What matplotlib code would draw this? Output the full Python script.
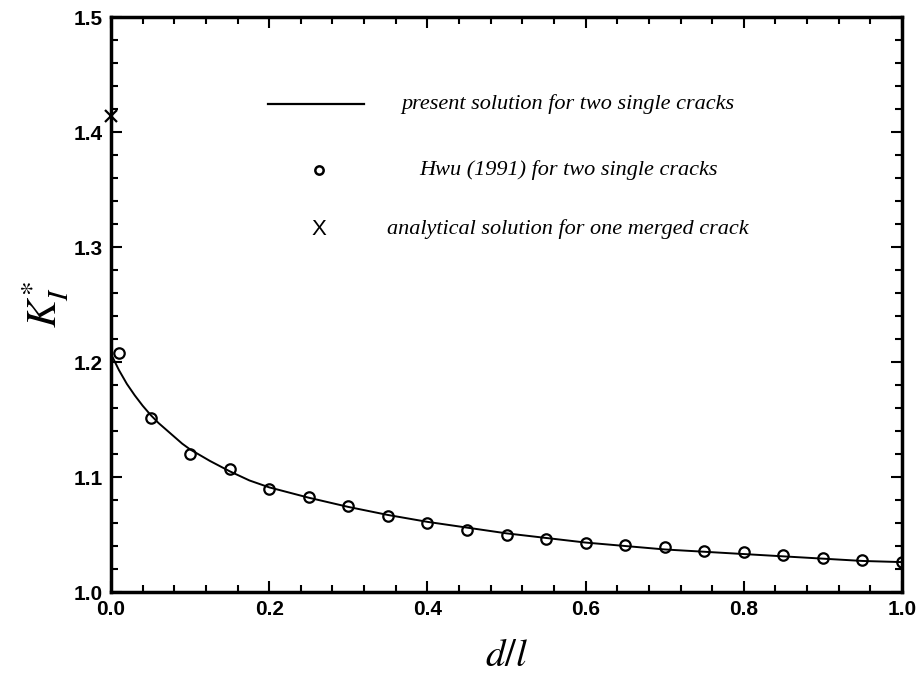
import matplotlib
matplotlib.use("Agg")
import matplotlib.pyplot as plt
from matplotlib.ticker import MultipleLocator, FormatStrFormatter
from matplotlib.lines import Line2D

plt.rcParams["mathtext.fontset"] = "stix"

# present solution (line)
line_x = [0.0, 0.005, 0.01, 0.02, 0.03, 0.04, 0.05, 0.06, 0.075, 0.09, 0.1, 0.125, 0.15, 0.175,
          0.2, 0.25, 0.3, 0.35, 0.4, 0.45, 0.5, 0.55, 0.6, 0.65, 0.7, 0.75, 0.8, 0.85, 0.9, 0.95, 1.0]
line_y = [1.207, 1.200, 1.193, 1.181, 1.171, 1.162, 1.154, 1.147, 1.138, 1.129, 1.124, 1.114, 1.105, 1.097,
          1.091, 1.082, 1.074, 1.067, 1.061, 1.056, 1.051, 1.047, 1.043, 1.040, 1.037, 1.035, 1.033, 1.031, 1.029, 1.027, 1.026]

# Hwu (1991) circles
hwu_x = [0.01, 0.05, 0.1, 0.15, 0.2, 0.25, 0.3, 0.35, 0.4, 0.45, 0.5, 0.55, 0.6, 0.65,
         0.7, 0.75, 0.8, 0.85, 0.9, 0.95, 1.0]
hwu_y = [1.208, 1.151, 1.120, 1.107, 1.090, 1.083, 1.075, 1.066, 1.060, 1.054, 1.050, 1.046, 1.043, 1.041,
         1.039, 1.036, 1.035, 1.032, 1.030, 1.028, 1.026]

# analytical merged crack
merged_x = [0.0]
merged_y = [1.414]

legend_labels = ["present solution for two single cracks",
                 "Hwu (1991) for two single cracks",
                 "analytical solution for one merged crack"]

fig = plt.figure(figsize=(9.19, 6.84), dpi=100)
ax = fig.add_axes([0.1208, 0.1345, 0.8607, 0.8406])

ax.plot(line_x, line_y, color="black", lw=1.4, zorder=3)
ax.plot(hwu_x, hwu_y, linestyle="none", marker="o", ms=7.5, mfc="none", mec="black", mew=1.6, zorder=4)
ax.plot(merged_x, merged_y, linestyle="none", marker="x", ms=9, color="black", mew=1.6, clip_on=False, zorder=5)

ax.set_xlim(0, 1.0)
ax.set_ylim(1.0, 1.5)
ax.xaxis.set_major_locator(MultipleLocator(0.2))
ax.xaxis.set_minor_locator(MultipleLocator(0.04))
ax.yaxis.set_major_locator(MultipleLocator(0.1))
ax.yaxis.set_minor_locator(MultipleLocator(0.02))
ax.xaxis.set_major_formatter(FormatStrFormatter("%.1f"))
ax.yaxis.set_major_formatter(FormatStrFormatter("%.1f"))
ax.tick_params(which="both", direction="in", top=True, right=True, width=1.5)
ax.tick_params(which="major", length=8)
ax.tick_params(which="minor", length=5)
ax.tick_params(axis="x", which="major", pad=6)
ax.tick_params(axis="y", which="major", pad=6)
for lab in ax.get_xticklabels() + ax.get_yticklabels():
    lab.set_fontfamily("Liberation Sans")
    lab.set_fontweight("bold")
    lab.set_fontsize(15)
for s in ax.spines.values():
    s.set_linewidth(2.5)

ax.set_xlabel("$d/l$", fontsize=28, labelpad=12)
ax.set_ylabel("$K_I^{*}$", fontsize=30, labelpad=2)

# manual legend
lx0, lx1, lxc = 0.199, 0.320, 0.263
tx = 0.578
ys = [0.848, 0.734, 0.631]
ax.add_line(Line2D([lx0, lx1], [ys[0], ys[0]], transform=ax.transAxes, color="black", lw=1.6))
ax.plot([lxc], [ys[1]], transform=ax.transAxes, marker="o", ms=6, mfc="none", mec="black", mew=1.8, linestyle="none")
ax.text(lxc, ys[2], "X", transform=ax.transAxes, ha="center", va="center", fontsize=16,
        fontfamily="Liberation Sans")
for y, t in zip(ys, legend_labels):
    ax.text(tx, y, t, transform=ax.transAxes, ha="center", va="center", fontsize=16,
            fontfamily="Liberation Serif", fontstyle="italic")

fig.savefig("out.png", dpi=100)
